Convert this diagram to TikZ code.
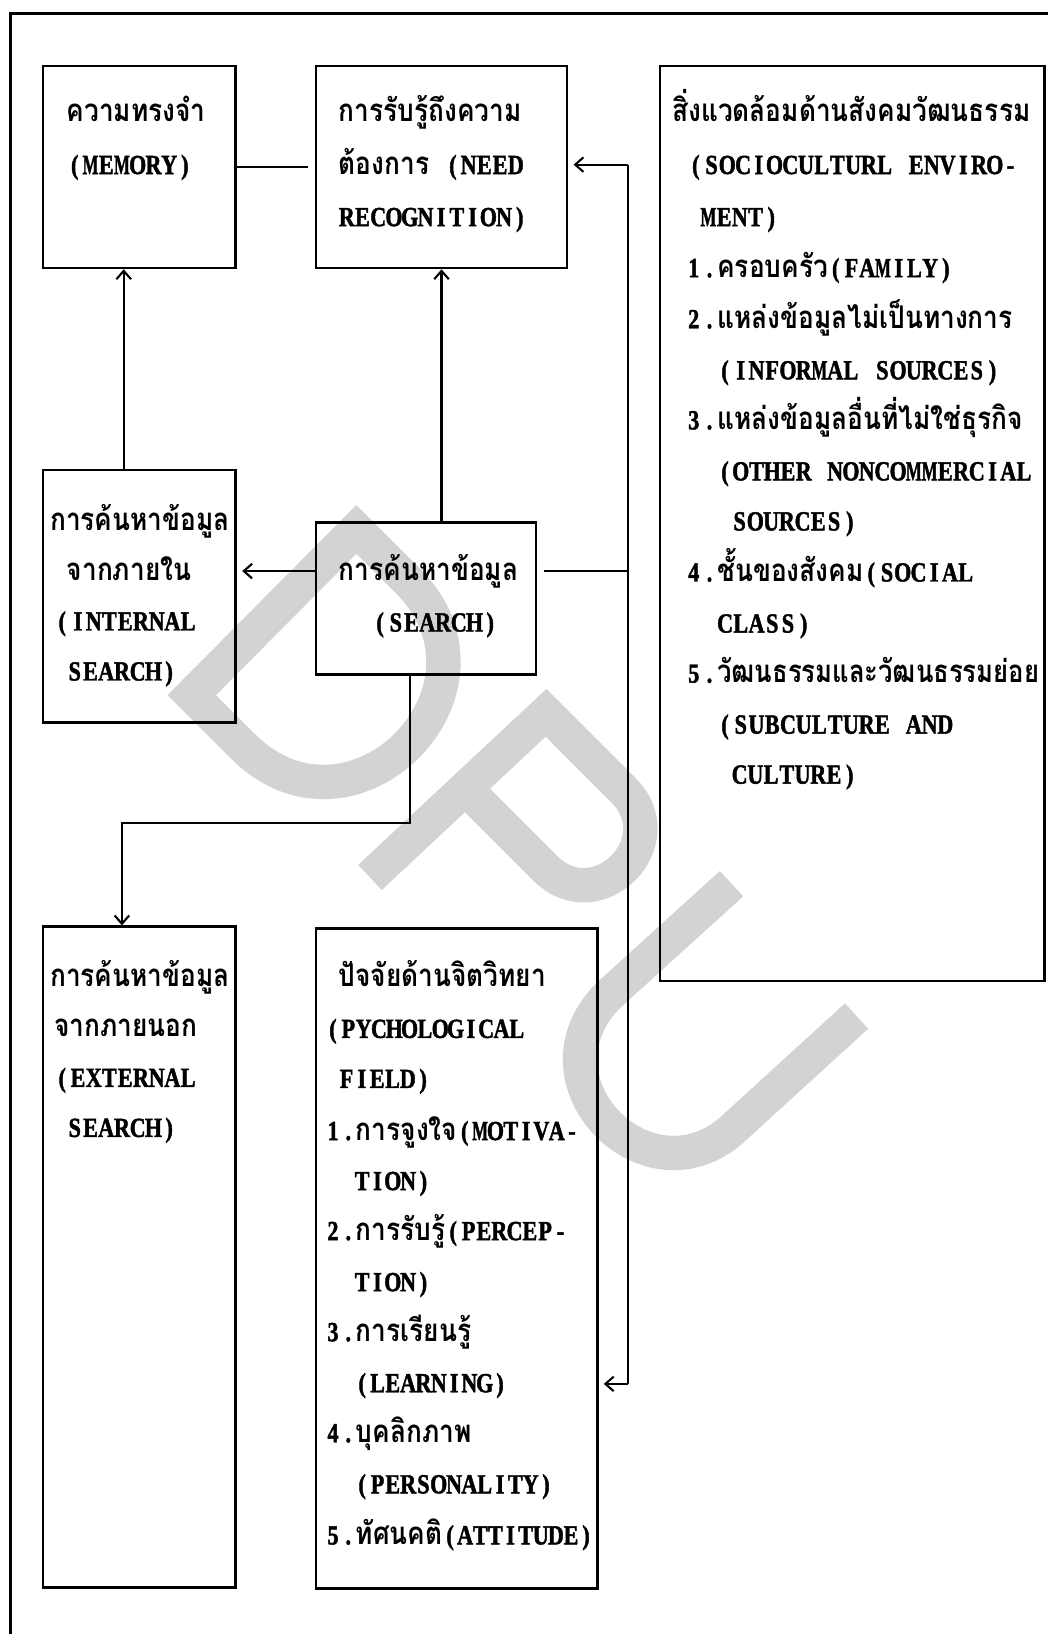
\documentclass[tikz,border=0pt]{standalone}
\usepackage{fontspec}
\usepackage{graphicx}
\newfontfamily\serf[FakeStretch=0.8,FakeBold=1.6]{Liberation Serif}
\newfontfamily\thaif[Script=Thai,FakeStretch=0.84]{Loma}
\newfontfamily\thaifn[Script=Thai,FakeStretch=0.82]{Loma}
\usetikzlibrary{arrows.meta}
\definecolor{wm}{RGB}{211,211,211}
\ExplSyntaxOn
\NewDocumentCommand\mono{O{15.1pt}m}{\tl_map_inline:nn {#2} {\makebox[#1][c]{\tl_if_eq:nnTF {##1}{M}{\scalebox{0.76}[1]{M}}{##1}}}}
\ExplSyntaxOff
\newcommand\thx[1]{{\thaif\fontsize{30}{30}\selectfont #1}}
\newcommand\thxn[1]{{\thaifn\fontsize{30}{30}\selectfont #1}}
\newcommand\tline[4]{\node[txt] (#1) at (#2,#3+9) {#4};}
\begin{document}
\begin{tikzpicture}[x=1pt,y=-1pt,
  bx/.style={draw,line width=2.4pt,inner sep=0pt,anchor=north west},
  txt/.style={anchor=base west,inner sep=0pt,font=\serf\bfseries\fontsize{26.5}{26.5}\selectfont},
  conn/.style={line width=2pt},
  arr/.style={line width=2pt,-{Straight Barb[length=8pt,width=14pt]}},
  wmk/.style={draw=wm,line width=33pt,line join=miter}]
\useasboundingbox (0,0) rectangle (1006,1568);
% watermark D P U
\draw[wmk] (184,667) -- (342,508) -- (391,557) .. controls (496,662) and (338,821) .. (233,716) -- cycle;
\draw[wmk] (355,842) -- (524,684) -- (598,758) .. controls (648,808) and (573,883) .. (523,833) -- (449,759);
\draw[wmk] (702,848) -- (584,955) .. controls (501,1038) and (625,1162) .. (708,1079) -- (822,975);
% outer frame
\draw[line width=2.4pt] (10,1568) -- (10,13) -- (1006,13);
% boxes
\node[bx,minimum width=185pt,minimum height=194pt] (mem) at (40,62) {};
\node[bx,minimum width=241pt,minimum height=194pt] (need) at (302,62) {};
\node[bx,minimum width=369pt,minimum height=878pt] (socio) at (632,62) {};
\node[bx,minimum width=185pt,minimum height=242pt] (int) at (40,450) {};
\node[bx,minimum width=211pt,minimum height=146pt] (search) at (302,500) {};
\node[bx,minimum width=185pt,minimum height=634pt] (ext) at (40,888) {};
\node[bx,minimum width=270pt,minimum height=633pt] (psych) at (302,890) {};
% texts
\tline{m1}{64}{108}{\thx{ความทรงจำ}}
\tline{m2}{64}{158}{\mono{(MEMORY)}}
\tline{n1}{325}{108}{\thx{การรับรู้ถึงความ}}
\tline{n2}{325}{158}{\thx{ต้องการ}\mono{~(NEED}}
\tline{n3}{325}{208}{\mono{RECOGNITION)}}
\tline{s1}{645}{108}{\thx{สิ่งแวดล้อมด้านสังคมวัฒนธรรม}}
\tline{s2}{660}{158}{\mono{(SOCIOCULTURL~ENVIRO-}}
\tline{s3}{672}{208}{\mono{MENT)}}
\tline{s4}{658}{257}{\mono{1.}\thx{ครอบครัว}\mono{(FAMILY)}}
\tline{s5}{658}{306}{\mono{2.}\thx{แหล่งข้อมูลไม่เป็นทางการ}}
\tline{s6}{688}{355}{\mono{(INFORMAL~SOURCES)}}
\tline{s7}{658}{403}{\mono{3.}\thx{แหล่งข้อมูลอื่นที่ไม่ใช่ธุรกิจ}}
\tline{s8}{688}{452}{\mono{(OTHER~NONCOMMERCIAL}}
\tline{s9}{702}{500}{\mono{SOURCES)}}
\tline{s10}{658}{549}{\mono{4.}\thx{ชั้นของสังคม}\mono{(SOCIAL}}
\tline{s11}{688}{598}{\mono{CLASS)}}
\tline{s12}{658}{646}{\mono{5.}\thxn{วัฒนธรรมและวัฒนธรรมย่อย}}
\tline{s13}{688}{695}{\mono{(SUBCULTURE~AND}}
\tline{s14}{702}{743}{\mono{CULTURE)}}
\tline{i1}{48}{500}{\thx{การค้นหาข้อมูล}}
\tline{i2}{64}{548}{\thx{จากภายใน}}
\tline{i3}{52}{596}{\mono{(INTERNAL}}
\tline{i4}{64}{644}{\mono{SEARCH)}}
\tline{q1}{325}{548}{\thx{การค้นหาข้อมูล}}
\tline{q2}{357}{597}{\mono{(SEARCH)}}
\tline{e1}{48}{938}{\thx{การค้นหาข้อมูล}}
\tline{e2}{52}{986}{\thx{จากภายนอก}}
\tline{e3}{52}{1034}{\mono{(EXTERNAL}}
\tline{e4}{64}{1082}{\mono{SEARCH)}}
\tline{p1}{325}{938}{\thx{ปัจจัยด้านจิตวิทยา}}
\tline{p2}{312}{987}{\mono[14.7pt]{(PYCHOLOGICAL}}
\tline{p3}{325}{1035}{\mono[14.7pt]{FIELD)}}
\tline{p4}{312}{1085}{\mono[14.7pt]{1.}\thx{การจูงใจ}\mono[14.7pt]{(MOTIVA-}}
\tline{p5}{340}{1133}{\mono[14.7pt]{TION)}}
\tline{p6}{312}{1181}{\mono[14.7pt]{2.}\thx{การรับรู้}\mono[14.7pt]{(PERCEP-}}
\tline{p7}{340}{1230}{\mono[14.7pt]{TION)}}
\tline{p8}{312}{1278}{\mono[14.7pt]{3.}\thx{การเรียนรู้}}
\tline{p9}{340}{1327}{\mono[14.7pt]{(LEARNING)}}
\tline{p10}{312}{1375}{\mono[14.7pt]{4.}\thx{บุคลิกภาพ}}
\tline{p11}{340}{1424}{\mono[14.7pt]{(PERSONALITY)}}
\tline{p12}{312}{1473}{\mono[14.7pt]{5.}\thx{ทัศนคติ}\mono[14.5pt]{(ATTITUDE)}}
% connectors
\coordinate (sl) at (302,548);
\coordinate (bt) at (603,158);
\coordinate (bb) at (603,1328);
\coordinate (bend) at (117,790);
\draw[conn,shorten >=6pt] (mem.east) -- (need.west);
\draw[arr] (need.south |- search.north) -- (need.south);
\draw[arr,shorten >=5pt] (sl) -- (int.east |- sl);
\draw[arr] ([xshift=-15pt]int.north) -- ([xshift=-15pt]mem.south);
\draw[arr] ([xshift=-15pt]search.south) |- (bend) -- (bend |- ext.north);
\draw[conn] (bt) -- (bb);
\draw[arr,shorten >=5pt] (bt) -- (need.east |- bt);
\draw[arr,shorten >=5pt] (bb) -- (psych.east |- bb);
\draw[conn,shorten <=7pt] (search.east |- sl) -- (bt |- sl);
\end{tikzpicture}
\end{document}
